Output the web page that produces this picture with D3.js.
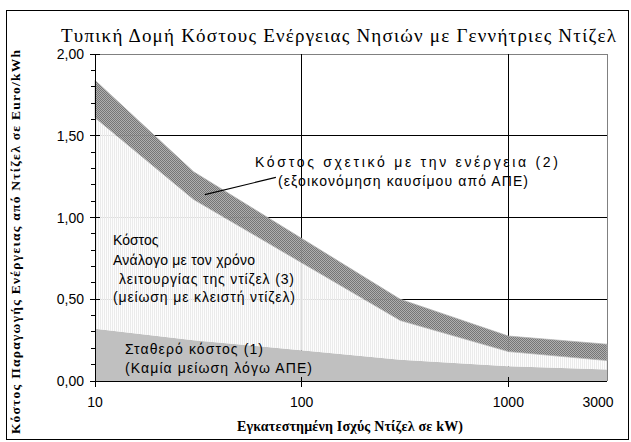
<!DOCTYPE html>
<html><head><meta charset="utf-8">
<script src="https://cdn.jsdelivr.net/npm/d3@7"></script>
<style>body{margin:0;background:#fff}svg{display:block}</style>
</head><body>
<script>
// ---- data ----
const capacities = [10, 30, 300, 1000, 3000];          // kW (log axis)
const fixedCost  = [0.32, 0.25, 0.13, 0.09, 0.07];     // (1) fixed cost
const timeCost   = [1.29, 0.86, 0.24, 0.09, 0.055];    // (3) time-proportional cost
const energyCost = [0.23, 0.17, 0.13, 0.095, 0.10];    // (2) energy-related cost
const yTickValues = [0, 0.5, 1, 1.5, 2];
const xTickValues = [10, 100, 1000, 3000];
const seriesKeys = ["fixed", "time", "energy"];

const W = 631, H = 442;
const svg = d3.select("body").append("svg").attr("width", W).attr("height", H);

const x = d3.scaleLog().domain([10, 3000]).range([95, 607]);
const y = d3.scaleLinear().domain([0, 2]).range([381, 54]);

const defs = svg.append("defs");
// light vertical hatch
const pL = defs.append("pattern").attr("id", "light").attr("patternUnits", "userSpaceOnUse")
  .attr("width", 2).attr("height", 2);
pL.append("rect").attr("width", 2).attr("height", 2).attr("fill", "#fcfcfc").attr("fill-opacity", 0.88);
pL.append("rect").attr("width", 1).attr("height", 2).attr("fill", "#ebebeb").attr("fill-opacity", 0.92);
// dark checker
const pD = defs.append("pattern").attr("id", "dark").attr("patternUnits", "userSpaceOnUse")
  .attr("width", 2).attr("height", 2);
pD.append("rect").attr("width", 2).attr("height", 2).attr("fill", "#a8a8a8").attr("fill-opacity", 0.92);
pD.append("rect").attr("width", 1).attr("height", 1).attr("fill", "#767676");
pD.append("rect").attr("x", 1).attr("y", 1).attr("width", 1).attr("height", 1).attr("fill", "#767676");

// outer chart border
svg.append("rect").attr("x", 6.5).attr("y", 10.5).attr("width", 622).attr("height", 429)
  .attr("fill", "none").attr("stroke", "#000").attr("stroke-width", 1);

// gridlines (behind areas)
const grid = svg.append("g").attr("shape-rendering", "crispEdges");
grid.selectAll("line.h").data(yTickValues.filter(d => d > 0)).join("line")
  .attr("x1", x(10)).attr("x2", x(3000)).attr("y1", d => y(d)).attr("y2", d => y(d))
  .attr("stroke", d => d === 2 ? "#808080" : "#000");
grid.selectAll("line.v").data([100, 1000]).join("line")
  .attr("x1", d => x(d)).attr("x2", d => x(d)).attr("y1", y(2)).attr("y2", y(0))
  .attr("stroke", "#000");
grid.append("line").attr("x1", x(3000)).attr("x2", x(3000)).attr("y1", y(2)).attr("y2", y(0))
  .attr("stroke", "#808080");

// stacked areas
const table = capacities.map((c, i) => ({ c, fixed: fixedCost[i], time: timeCost[i], energy: energyCost[i] }));
const stacked = d3.stack().keys(seriesKeys)(table);
const area = d3.area().x(d => x(d.data.c)).y0(d => y(d[0])).y1(d => y(d[1]));
const fills = { fixed: "#c0c0c0", time: "url(#light)", energy: "url(#dark)" };
svg.append("g").selectAll("path").data(stacked).join("path")
  .attr("d", area).attr("fill", d => fills[d.key])
  .attr("stroke", d => d.key === "energy" ? "#b0b0b0" : "none").attr("stroke-width", 0.7);

// axes
const axes = svg.append("g").attr("shape-rendering", "crispEdges");
axes.append("line").attr("x1", x(10)).attr("x2", x(10)).attr("y1", y(2)).attr("y2", y(0)).attr("stroke", "#000");
axes.append("line").attr("x1", x(10)).attr("x2", x(3000)).attr("y1", y(0)).attr("y2", y(0)).attr("stroke", "#000");
// y minor ticks
axes.selectAll("line.ym").data(d3.range(0, 21).map(i => i / 10)).join("line")
  .attr("x1", x(10) - 4).attr("x2", x(10)).attr("y1", d => y(d)).attr("y2", d => y(d)).attr("stroke", "#000");
// y major ticks (cross)
axes.selectAll("line.yM").data(yTickValues).join("line")
  .attr("x1", x(10) - 5).attr("x2", x(10) + 5).attr("y1", d => y(d)).attr("y2", d => y(d)).attr("stroke", "#000");
// x major ticks
axes.selectAll("line.xM").data([10, 100, 1000]).join("line")
  .attr("x1", d => x(d)).attr("x2", d => x(d)).attr("y1", y(0) - 4).attr("y2", y(0) + 6).attr("stroke", "#000");

const fmt = d => d3.format(".2f")(d).replace(".", ",");
svg.append("g").selectAll("text").data(yTickValues).join("text")
  .attr("x", 84).attr("y", d => y(d)).attr("dy", "0.36em").attr("text-anchor", "end")
  .attr("font-family", "Liberation Sans, Arial, sans-serif").attr("font-size", 14)
  .text(fmt);
svg.append("g").selectAll("text").data(xTickValues).join("text")
  .attr("x", d => x(d)).attr("dx", d => d === 3000 ? -9 : 0).attr("y", 407).attr("text-anchor", "middle")
  .attr("font-family", "Liberation Sans, Arial, sans-serif").attr("font-size", 14)
  .text(d => d);

// titles
svg.append("text").attr("x", 61).attr("y", 42).attr("textLength", 555).attr("lengthAdjust", "spacing")
  .attr("font-family", "Liberation Serif, Times New Roman, serif").attr("font-size", 19)
  .text("Τυπική Δομή Κόστους Ενέργειας Νησιών με Γεννήτριες Ντίζελ");
svg.append("text").attr("transform", "translate(20,434) rotate(-90)")
  .attr("textLength", 384).attr("lengthAdjust", "spacing")
  .attr("font-family", "Liberation Serif, Times New Roman, serif").attr("font-size", 13.5).attr("font-weight", "bold")
  .text("Κόστος Παραγωγής Ενέργειας από Ντίζελ σε Euro/kWh");
svg.append("text").attr("x", 237).attr("y", 431).attr("textLength", 226).attr("lengthAdjust", "spacing")
  .attr("font-family", "Liberation Serif, Times New Roman, serif").attr("font-size", 14).attr("font-weight", "bold")
  .text("Εγκατεστημένη Ισχύς Ντίζελ σε kW)");

// annotations
const notes = [
  { t: "Κόστος σχετικό με την ενέργεια (2)", x: 255, y: 167, w: 303 },
  { t: "(εξοικονόμηση καυσίμου από ΑΠΕ)", x: 278, y: 186, w: 250 },
  { t: "Κόστος", x: 113, y: 245, w: 0 },
  { t: "Ανάλογο με τον χρόνο", x: 113, y: 265, w: 142 },
  { t: "λειτουργίας της ντίζελ (3)", x: 119, y: 284, w: 175 },
  { t: "(μείωση με κλειστή ντίζελ)", x: 113, y: 302, w: 182 },
  { t: "Σταθερό κόστος (1)", x: 125, y: 354, w: 138 },
  { t: "(Καμία μείωση λόγω ΑΠΕ)", x: 125, y: 373, w: 187 }
];
const nt = svg.append("g").selectAll("text").data(notes).join("text")
  .attr("x", d => d.x).attr("y", d => d.y)
  .attr("font-family", "Liberation Sans, Arial, sans-serif").attr("font-size", 14)
  .text(d => d.t);
nt.filter(d => d.w > 0).attr("textLength", d => d.w).attr("lengthAdjust", "spacing");

// leader line
svg.append("line").attr("x1", x(34)).attr("y1", y(1.14)).attr("x2", x(75)).attr("y2", y(1.245))
  .attr("stroke", "#000").attr("stroke-width", 1.2);
</script>
</body></html>
